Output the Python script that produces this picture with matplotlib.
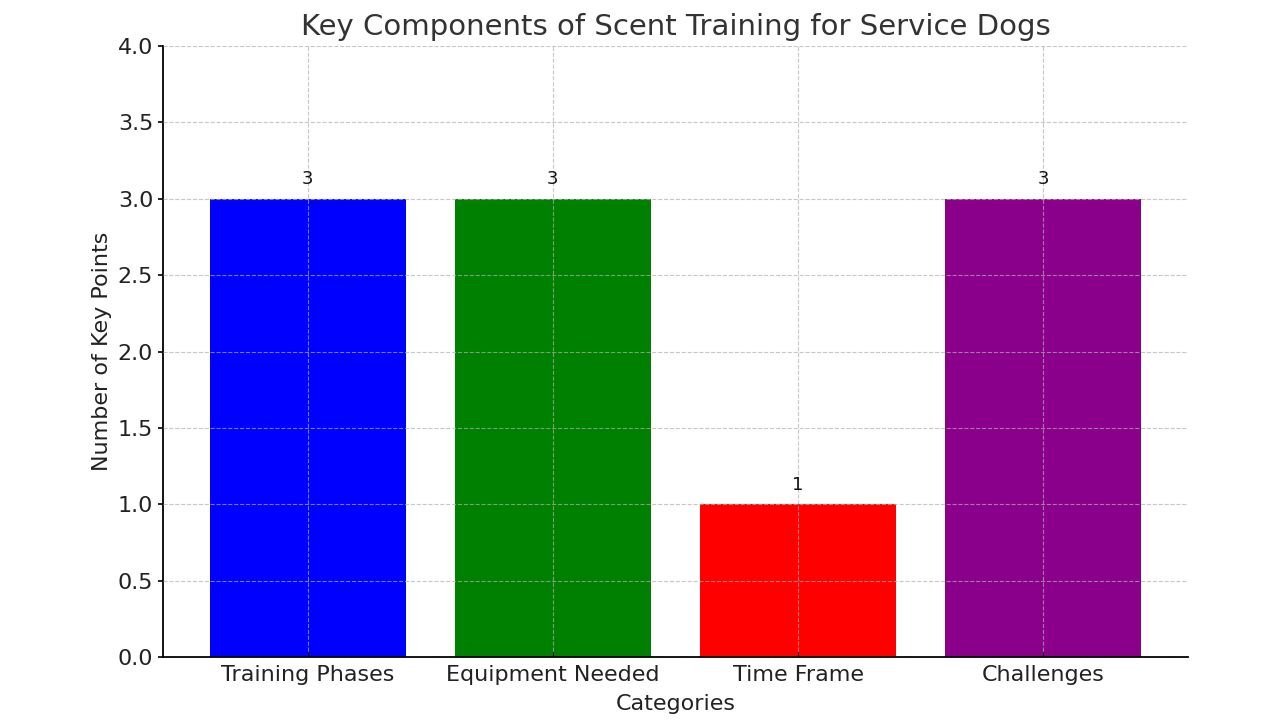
import matplotlib
matplotlib.use("Agg")
from matplotlib import pyplot as plt

categories = ["Training Phases", "Equipment Needed", "Time Frame", "Challenges"]
key_points = [3, 3, 1, 3]
bar_colors = ["blue", "green", "red", "darkmagenta"]

fig = plt.figure(figsize=(12.8, 7.2), dpi=100)
ax = fig.add_axes([0.1273, 0.0875, 0.8008, 0.8486])

bars = ax.bar(categories, key_points, color=bar_colors, width=0.8)
for b, v in zip(bars, key_points):
    ax.text(b.get_x() + b.get_width() / 2, v + 0.07, str(v), ha="center", va="bottom",
            fontsize=13, color="#111111")

ax.set_ylim(0, 4.0)
ax.set_yticks([0, 0.5, 1.0, 1.5, 2.0, 2.5, 3.0, 3.5, 4.0])
ax.grid(True, linestyle="--", color="#b0b0b0", linewidth=0.8, alpha=0.7)
ax.set_axisbelow(False)

ax.spines["top"].set_visible(False)
ax.spines["right"].set_visible(False)
for s in ("left", "bottom"):
    ax.spines[s].set_linewidth(1.3)
ax.tick_params(axis="x", direction="in", labelsize=16, labelcolor="#222222", pad=6)
ax.tick_params(axis="y", labelsize=16, labelcolor="#222222", width=1.2)

ax.set_title("Key Components of Scent Training for Service Dogs", fontsize=21, color="#333333", pad=8)
ax.set_xlabel("Categories", fontsize=16, color="#222222", labelpad=6)
ax.set_ylabel("Number of Key Points", fontsize=16, color="#222222")

fig.savefig("out.png", dpi=100)
